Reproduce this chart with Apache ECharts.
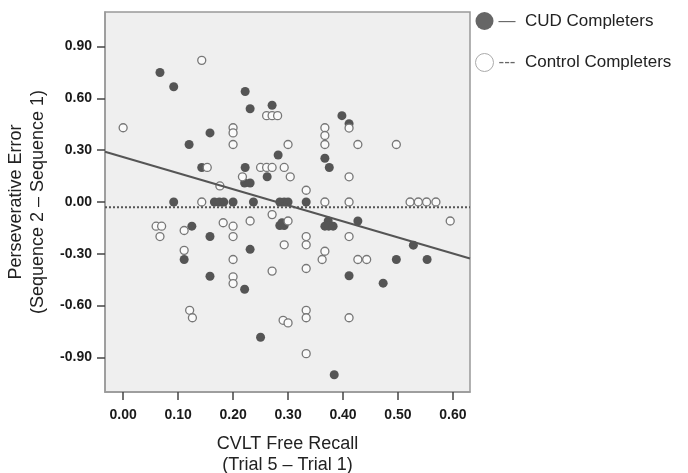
<!DOCTYPE html>
<html>
<head>
<meta charset="utf-8">
<script src="https://cdn.jsdelivr.net/npm/echarts@6/dist/echarts.min.js"></script>
<style>
html, body { margin: 0; padding: 0; background: #fff; }
#myChart { width: 688px; height: 473px; }
</style>
</head>
<body>
<div id="myChart"></div>
<script>
// CUD completers (filled dots)
var cudX = [0.067, 0.092, 0.222, 0.231, 0.271, 0.398, 0.411, 0.158, 0.12, 0.282,
  0.143, 0.222, 0.262, 0.221, 0.231, 0.092, 0.166, 0.175, 0.183, 0.2,
  0.237, 0.285, 0.293, 0.30, 0.333, 0.367, 0.375, 0.125, 0.158, 0.231,
  0.111, 0.158, 0.285, 0.293, 0.289, 0.373, 0.367, 0.374, 0.382, 0.427,
  0.528, 0.497, 0.553, 0.411, 0.473, 0.221, 0.25, 0.384];
var cudY = [0.75, 0.667, 0.64, 0.54, 0.56, 0.50, 0.453, 0.40, 0.333, 0.272,
  0.20, 0.20, 0.146, 0.11, 0.11, 0.0, 0.0, 0.0, 0.0, 0.0,
  0.0, 0.0, 0.0, 0.0, 0.0, 0.253, 0.20, -0.14, -0.20, -0.274,
  -0.333, -0.43, -0.136, -0.136, -0.12, -0.11, -0.14, -0.14, -0.14, -0.11,
  -0.25, -0.333, -0.333, -0.427, -0.47, -0.505, -0.783, -1.0];

// control completers (open dots)
var ctrlX = [0.143, 0.261, 0.271, 0.281, 0.0, 0.2, 0.2, 0.2, 0.411, 0.367,
  0.367, 0.30, 0.367, 0.427, 0.497, 0.153, 0.25, 0.261, 0.271, 0.293,
  0.217, 0.304, 0.411, 0.176, 0.333, 0.143, 0.367, 0.411, 0.522, 0.537,
  0.552, 0.569, 0.271, 0.06, 0.07, 0.067, 0.111, 0.182, 0.2, 0.231,
  0.2, 0.111, 0.2, 0.2, 0.2, 0.271, 0.30, 0.595, 0.333, 0.333,
  0.293, 0.411, 0.367, 0.362, 0.427, 0.443, 0.333, 0.121, 0.126, 0.333,
  0.333, 0.291, 0.30, 0.411, 0.333];
var ctrlY = [0.82, 0.50, 0.50, 0.50, 0.43, 0.43, 0.40, 0.333, 0.428, 0.43,
  0.385, 0.333, 0.333, 0.333, 0.333, 0.20, 0.20, 0.20, 0.20, 0.20,
  0.146, 0.146, 0.146, 0.093, 0.068, 0.0, 0.0, 0.0, 0.0, 0.0,
  0.0, 0.0, -0.073, -0.14, -0.14, -0.20, -0.165, -0.12, -0.14, -0.11,
  -0.20, -0.28, -0.333, -0.433, -0.472, -0.40, -0.11, -0.11, -0.20, -0.248,
  -0.248, -0.20, -0.285, -0.333, -0.333, -0.333, -0.385, -0.627, -0.67, -0.627,
  -0.67, -0.685, -0.70, -0.67, -0.878];

// fit lines
var cudFitX = [-0.033, 0.631];
var cudFitY = [0.291, -0.327];
var ctrlFitX = [-0.033, 0.631];
var ctrlFitY = [-0.03, -0.03];

var xTicks = [0, 0.1, 0.2, 0.3, 0.4, 0.5, 0.6];
var yTicks = [-0.9, -0.6, -0.3, 0, 0.3, 0.6, 0.9];

function pairs(xs, ys) {
  return xs.map(function (x, i) { return [x, ys[i]]; });
}

var myChart = echarts.init(document.getElementById("myChart"));
myChart.setOption({
  animation: false,
  textStyle: { fontFamily: "Liberation Sans, Arial, sans-serif" },
  grid: {
    left: 105, top: 12, width: 365, height: 380,
    containLabel: false,
    outerBoundsMode: "none",
    show: true,
    backgroundColor: "#efefef",
    borderColor: "#999",
    borderWidth: 1.5
  },
  legend: {
    orient: "vertical",
    left: 475,
    top: 12,
    padding: 0,
    itemWidth: 18,
    itemHeight: 18,
    itemGap: 23,
    icon: "circle",
    data: [
      { name: "CUD Completers", itemStyle: { color: "#666", borderWidth: 0 } },
      { name: "Control Completers", itemStyle: { color: "#fff", borderColor: "#aaa", borderWidth: 1 } }
    ],
    formatter: function (name) {
      return (name === "CUD Completers" ? "{d|—}  " : "{d|---}  ") + name;
    },
    textStyle: {
      fontSize: 17,
      color: "#222",
      rich: { d: { fontSize: 17, color: "#666" } }
    }
  },
  xAxis: {
    type: "value",
    min: -0.033,
    max: 0.631,
    name: "CVLT Free Recall\n(Trial 5 – Trial 1)",
    nameLocation: "middle",
    nameGap: 42,
    nameTextStyle: { fontSize: 18, color: "#222", lineHeight: 21 },
    splitLine: { show: false },
    axisLine: { show: true, onZero: false, lineStyle: { color: "#999", width: 1.5 } },
    axisTick: { show: true, customValues: xTicks, length: 8, lineStyle: { color: "#444", width: 1.5 } },
    axisLabel: {
      customValues: xTicks,
      formatter: function (v) { return v.toFixed(2); },
      fontSize: 14, fontWeight: "bold", color: "#1a1a1a", margin: 16
    }
  },
  yAxis: {
    type: "value",
    min: -1.1,
    max: 1.1,
    name: "Perseverative Error\n(Sequence 2 – Sequence 1)",
    nameLocation: "middle",
    nameGap: 53,
    nameTextStyle: { fontSize: 18, color: "#222", lineHeight: 22 },
    splitLine: { show: false },
    axisLine: { show: true, onZero: false, lineStyle: { color: "#999", width: 1.5 } },
    axisTick: { show: true, customValues: yTicks, length: 8, lineStyle: { color: "#444", width: 1.5 } },
    axisLabel: {
      customValues: yTicks,
      formatter: function (v) { return v.toFixed(2); },
      fontSize: 14, fontWeight: "bold", color: "#1a1a1a", margin: 13
    }
  },
  series: [
    {
      name: "CUD Completers",
      type: "scatter",
      symbolSize: 9,
      itemStyle: { color: "#555", opacity: 1 },
      data: pairs(cudX, cudY)
    },
    {
      name: "Control Completers",
      type: "scatter",
      symbolSize: 8,
      itemStyle: { color: "#fafafa", borderColor: "#777", borderWidth: 1.3, opacity: 1 },
      data: pairs(ctrlX, ctrlY)
    },
    {
      name: "cudFit",
      type: "line",
      symbol: "none",
      silent: true,
      lineStyle: { color: "#555", width: 2 },
      data: pairs(cudFitX, cudFitY)
    },
    {
      name: "ctrlFit",
      type: "line",
      symbol: "none",
      silent: true,
      lineStyle: { color: "#555", width: 2, type: [2, 2] },
      data: pairs(ctrlFitX, ctrlFitY)
    }
  ]
});
</script>
</body>
</html>
